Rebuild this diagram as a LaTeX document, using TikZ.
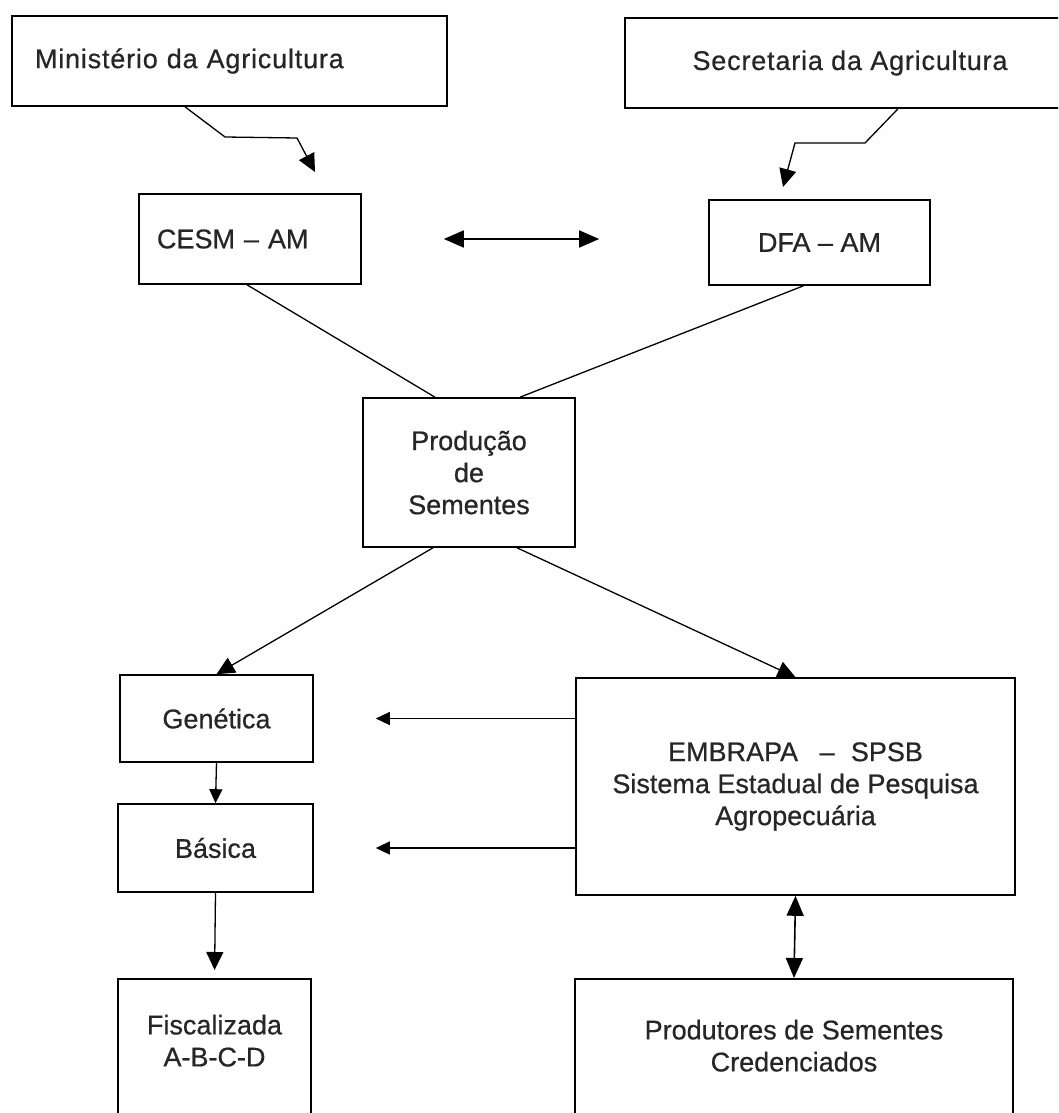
\documentclass[tikz,border=0pt]{standalone}
\usepackage{fontspec}
\setmainfont[FakeBold=0.6]{Liberation Sans}
\usetikzlibrary{arrows.meta}
\tikzset{
  box/.style={draw, line width=1.6pt, text=black!85, align=center, inner sep=0pt,
    font=\fontsize{27}{32}\selectfont},
  widebox/.style={box, font=\fontsize{27}{32}\selectfont\addfontfeatures{LetterSpace=3}},
  link/.style={line width=1.3pt},
  arr/.style={link, -{Triangle[length=18pt,width=17pt]}},
  arrsmall/.style={link, -{Triangle[length=14pt,width=13pt]}},
  dblarr/.style={line width=1.6pt, {Triangle[length=20pt,width=17pt]}-{Triangle[length=20pt,width=17pt]}}
}
\begin{document}
\begin{tikzpicture}[x=1pt, y=-1pt]
    \useasboundingbox (0,0) rectangle (1058,1113);
    \clip (0,0) rectangle (1058,1113);
    \fill[white] (0,0) rectangle (1058,1113);
    \node[widebox, minimum width=435pt, minimum height=90pt, text width=389pt, align=left] (mini) at (229.5,61) {Ministério da Agricultura};
    \node[widebox, minimum width=450pt, minimum height=90pt] (secr) at (850,63) {Secretaria da Agricultura};
    \node[box, minimum width=222pt, minimum height=90pt, text width=186pt, align=left] (cesm) at (250,239) {CESM -- AM};
    \node[box, minimum width=221pt, minimum height=85pt] (dfa) at (819.5,242.5) {DFA -- AM};
    \node[box, minimum width=212pt, minimum height=149pt] (prod) at (469,472.5) {Produção\\de\\Sementes};
    \node[box, minimum width=193pt, minimum height=87pt] (gen) at (216.5,718.5) {Genética};
    \node[box, minimum width=195pt, minimum height=88pt] (bas) at (215.5,848) {Básica};
    \node[box, minimum width=193pt, inner ysep=36pt, anchor=north] (fisc) at (214.5,978) {Fiscalizada\\A-B-C-D\\[60pt]\mbox{}};
    \node[box, minimum width=439pt, minimum height=217pt] (embr) at (795.5,786.5) {EMBRAPA\hspace{0.8em}--\hspace{0.6em}SPSB\\Sistema Estadual de Pesquisa\\Agropecuária};
    \node[box, minimum width=438pt, inner ysep=41pt, anchor=north] (prodt) at (794,978) {Produtores de Sementes\\Credenciados\\[60pt]\mbox{}};

    \coordinate (mtip) at (315,172);
    \coordinate (stip) at (783,187);
    \draw[arr] ([xshift=-44.5pt]mini.south) -- (225,137) -- (297,138) -- (mtip);
    \draw[arr] ([xshift=48pt]secr.south) -- (865,143) -- (795,143) -- (stip);
    \draw[dblarr, shorten <=82pt, shorten >=109pt] (cesm.east) -- (cesm.east -| dfa.west);
    \draw[link] ([xshift=-3pt]cesm.south) -- ([xshift=-34pt]prod.north);
    \draw[link] ([xshift=-16pt]dfa.south) -- ([xshift=51pt]prod.north);
    \draw[arr] ([xshift=-36pt]prod.south) -- (gen.north);
    \draw[arr] ([xshift=48pt]prod.south) -- (embr.north);
    \draw[arrsmall, shorten >=62pt] (embr.west |- gen.east) -- (gen.east);
    \draw[arrsmall, shorten >=62pt] (embr.west |- bas.east) -- (bas.east);
    \draw[arrsmall] (gen.south) -- (bas.north);
    \draw[arr, shorten >=8pt] (bas.south) -- (fisc.north);
    \draw[dblarr] (embr.south) -- (prodt.north);
  \end{tikzpicture}
\end{document}
